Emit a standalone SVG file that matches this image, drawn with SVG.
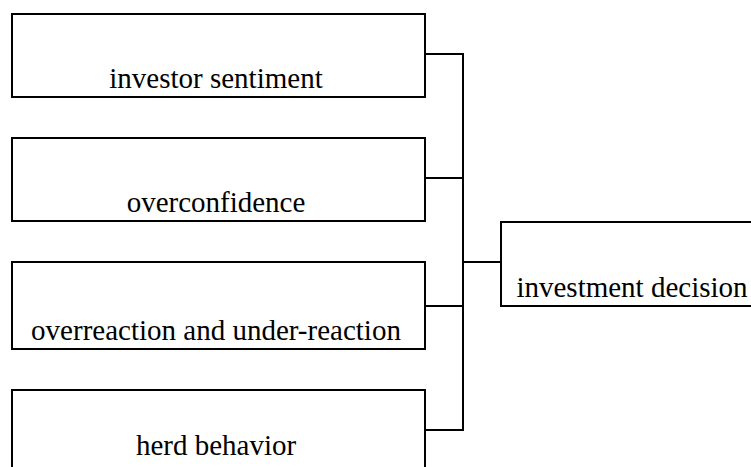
<svg xmlns="http://www.w3.org/2000/svg" width="751" height="467" viewBox="0 0 751 467">
<style>
.box{fill:#fff;stroke:#000;stroke-width:2}
.lbl{font-family:"Liberation Serif","Times New Roman",serif;font-size:29px;fill:#000;text-anchor:middle}
.conn{fill:none;stroke:#000;stroke-width:2}
</style>
<rect width="751" height="467" fill="#fff"/>
<g id="connectors">
<path class="conn" d="M425,54H463M425,178H463M425,306H463M425,430H463M463,53V431M463,262H501"/>
</g>
<g id="n1"><rect class="box" x="12" y="14" width="413" height="83"/><text class="lbl" x="216" y="88">investor sentiment</text></g>
<g id="n2"><rect class="box" x="12" y="138" width="413" height="83"/><text class="lbl" x="216" y="212">overconfidence</text></g>
<g id="n3"><rect class="box" x="12" y="262" width="413" height="87"/><text class="lbl" x="216" y="340">overreaction and under-reaction</text></g>
<g id="n4"><rect class="box" x="12" y="390" width="413" height="90"/><text class="lbl" x="216" y="455">herd behavior</text></g>
<g id="n5"><rect class="box" x="501" y="222" width="270" height="84"/><text class="lbl" x="632" y="297">investment decision</text></g>
</svg>
